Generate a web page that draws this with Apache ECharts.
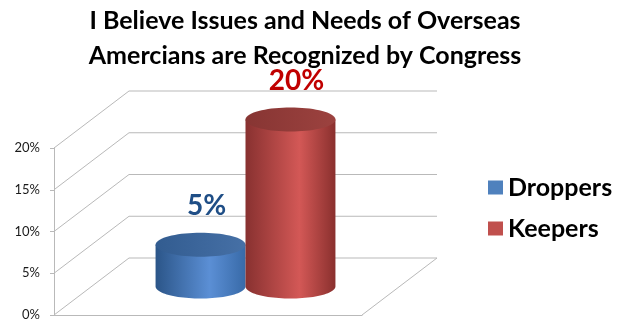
<!DOCTYPE html>
<html>
<head>
<meta charset="utf-8">
<script src="https://cdn.jsdelivr.net/npm/echarts@6/dist/echarts.min.js"></script>
<style>
  html, body { margin: 0; padding: 0; background: #ffffff; }
  #chart { width: 624px; height: 323px; }
</style>
</head>
<body>
<div id="chart"></div>
<script>
// Survey results shown as 3D-style cylinders
const titleLines = ['I Believe Issues and Needs of Overseas', 'Amercians are Recognized by Congress'];
const categories = ['Response'];
const seriesNames = ['Droppers', 'Keepers'];
const seriesValues = [5, 20];
const valueTicks = [0, 5, 10, 15, 20];

const FONT = 'Lato';
const DEPTH = [75, -57];        // projection offset from the front plane to the back wall
const BAR_RATIO = 0.292;        // cylinder diameter as a share of the category band
const RY = 12;                  // vertical radius of the cylinder ellipses
const GRID_COLOR = '#b9b9b9';

const palettes = [
  { body: ['#2b5588', '#5b8fd5', '#386aa8'], top: ['#325c90', '#4670a6'], label: '#1f4e86', legend: '#4f81bd' },
  { body: ['#883130', '#d35856', '#8a302e'], top: ['#873533', '#9c423f'], label: '#c00000', legend: '#c0504d' }
];

function arcPoints(cx, cy, rx, ry, a0, a1, n) {
  const pts = [];
  for (let i = 0; i <= n; i++) {
    const a = a0 + (a1 - a0) * i / n;
    pts.push([cx + rx * Math.cos(a), cy + ry * Math.sin(a)]);
  }
  return pts;
}

function hGrad(stops) {
  return new echarts.graphic.LinearGradient(0, 0, 1, 0, [
    { offset: 0, color: stops[0] },
    { offset: 0.6, color: stops[1] },
    { offset: 1, color: stops[2] }
  ]);
}

// Back wall and floor: one bent line per value tick
function renderWalls(params, api) {
  const v = api.value(1);
  const p = api.coord([api.value(0), v]);
  const band = api.size([1, 0])[0];
  const x0 = p[0] - band / 2;
  const children = [{
    type: 'polyline',
    shape: { points: [[x0, p[1]], [x0 + DEPTH[0], p[1] + DEPTH[1]], [x0 + band + DEPTH[0], p[1] + DEPTH[1]]] },
    style: { stroke: GRID_COLOR, lineWidth: 1, fill: null }
  }];
  if (v === 0) {
    children.push({
      type: 'line',
      shape: { x1: x0 + band, y1: p[1], x2: x0 + band + DEPTH[0], y2: p[1] + DEPTH[1] },
      style: { stroke: GRID_COLOR, lineWidth: 1 }
    });
  }
  return { type: 'group', children: children };
}

function makeCylinderRenderer(idx) {
  const pal = palettes[idx];
  return function (params, api) {
    const val = api.value(1);
    const top = api.coord([api.value(0), val]);
    const base = api.coord([api.value(0), 0]);
    const band = api.size([1, 0])[0];
    const barW = band * BAR_RATIO;
    const rx = barW / 2;
    const cx = top[0] + (idx - 0.5) * barW + DEPTH[0] / 2;
    const topY = top[1] + DEPTH[1] / 2;
    const botY = base[1] + DEPTH[1] / 2;
    const body = [[cx - rx, topY]]
      .concat(arcPoints(cx, botY, rx, RY, Math.PI, 0, 48))
      .concat([[cx + rx, topY]]);
    return {
      type: 'group',
      children: [
        { type: 'polygon', shape: { points: body }, style: { fill: hGrad(pal.body) } },
        {
          type: 'polygon',
          shape: { points: arcPoints(cx, topY, rx, RY, 0, Math.PI * 2, 72) },
          style: { fill: new echarts.graphic.LinearGradient(0, 0, 1, 0, [
            { offset: 0, color: pal.top[0] }, { offset: 1, color: pal.top[1] }]) }
        },
        {
          type: 'text',
          style: {
            x: cx + 6, y: topY - RY - 13,
            text: val + '%',
            fill: pal.label,
            fontFamily: FONT, fontWeight: 'bold', fontSize: 28,
            align: 'center', verticalAlign: 'bottom'
          }
        }
      ]
    };
  };
}

const chart = echarts.init(document.getElementById('chart'), null, { renderer: 'canvas' });

const series = [{
  name: 'walls',
  type: 'custom',
  silent: true,
  z: 1,
  renderItem: renderWalls,
  encode: { x: 0, y: 1 },
  data: valueTicks.map(v => [0, v])
}].concat(seriesNames.map((name, i) => ({
  name: name,
  type: 'custom',
  z: 2 + i,
  itemStyle: { color: palettes[i].legend },
  renderItem: makeCylinderRenderer(i),
  encode: { x: 0, y: 1 },
  data: [[0, seriesValues[i]]]
})));

chart.setOption({
  animation: false,
  backgroundColor: '#ffffff',
  graphic: [{
    type: 'text',
    x: 305, y: 3,
    style: {
      text: titleLines.join('\n'),
      fontFamily: FONT, fontWeight: 'bold', fontSize: 25, lineHeight: 35,
      fill: '#000000', align: 'center'
    }
  }],
  legend: {
    orient: 'vertical',
    left: 483, top: 170,
    itemWidth: 15, itemHeight: 14, itemGap: 16,
    textStyle: { fontFamily: FONT, fontWeight: 'bold', fontSize: 25, color: '#000000' },
    data: seriesNames.map(n => ({ name: n, icon: 'rect' }))
  },
  grid: { left: 54, right: 262, top: 148, bottom: 8, containLabel: false },
  xAxis: {
    type: 'category',
    data: categories,
    axisLine: { lineStyle: { color: GRID_COLOR, width: 1 } },
    axisTick: { show: false },
    axisLabel: { show: false },
    splitLine: { show: false }
  },
  yAxis: {
    type: 'value',
    min: 0, max: 20, interval: 5,
    axisLine: { show: true, lineStyle: { color: GRID_COLOR, width: 1 } },
    axisTick: { show: true, length: 4, lineStyle: { color: GRID_COLOR } },
    axisLabel: { formatter: '{value}%', fontFamily: FONT, fontSize: 13, color: '#1a1a1a', margin: 14 },
    splitLine: { show: false }
  },
  series: series
});
</script>
</body>
</html>
